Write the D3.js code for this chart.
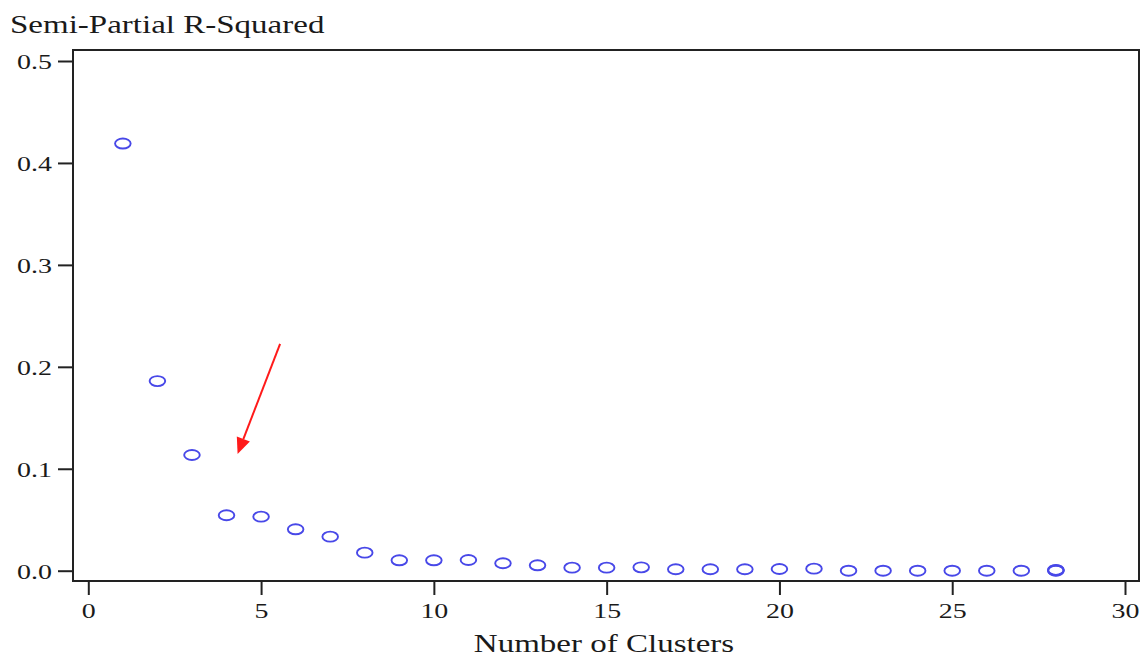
<!DOCTYPE html>
<html>
<head>
<meta charset="utf-8">
<script src="https://cdn.jsdelivr.net/npm/d3@7"></script>
<style>
  html, body { margin: 0; padding: 0; background: #fff; }
  svg { display: block; }
</style>
</head>
<body>
<svg id="chart" width="1142" height="658"></svg>
<script>
// ---- data ----
const clusters = [1,2,3,4,5,6,7,8,9,10,11,12,13,14,15,16,17,18,19,20,21,22,23,24,25,26,27,28,28,28];
const spRsq    = [0.419,0.186,0.1135,0.0544,0.053,0.0406,0.0334,0.0177,0.0102,0.0102,0.0105,0.0073,0.0053,0.003,0.003,0.0033,0.0014,0.0014,0.0014,0.0017,0.002,0.0,0.0,0.0,0.0,0.0,0.0,0.0,0.0004,0.0008];
const xTicks = [0,5,10,15,20,25,30];
const yTicks = [0.0,0.1,0.2,0.3,0.4,0.5];
const titleText = "Semi-Partial R-Squared";
const xLabel = "Number of Clusters";
// annotation arrow (data coordinates): start -> tip
const arrowStart = [5.55, 0.2225];
const arrowTip   = [4.32, 0.1145];

// ---- layout ----
const svg = d3.select("#chart");
const SX = 1.27;               // horizontal text stretch seen in reference
const frame = {left: 73, top: 50, right: 1139, bottom: 581};
const x = d3.scaleLinear().domain([0, 30]).range([88.3, 1125]);
const y = d3.scaleLinear().domain([0, 0.5]).range([570.7, 61]);
const serif = "'Liberation Serif', 'Times New Roman', serif";
const ink = "#1a1a1a";

// title
svg.append("text")
  .attr("transform", `translate(10,33) scale(${SX},1)`)
  .attr("font-family", serif).attr("font-size", 26).attr("fill", ink)
  .text(titleText);

// frame
svg.append("rect")
  .attr("x", frame.left).attr("y", frame.top)
  .attr("width", frame.right - frame.left).attr("height", frame.bottom - frame.top)
  .attr("fill", "none").attr("stroke", "#222").attr("stroke-width", 2);

// y axis
const gy = svg.append("g").attr("transform", `translate(${frame.left},0)`)
  .call(d3.axisLeft(y).tickValues(yTicks).tickFormat(d3.format(".1f")).tickSize(15));
gy.select(".domain").remove();
gy.selectAll(".tick line").attr("stroke", "#222").attr("stroke-width", 2);
gy.selectAll(".tick text")
  .attr("font-family", serif).attr("font-size", 22).attr("fill", ink)
  .attr("x", -21 / SX).attr("dy", "0.34em")
  .attr("transform", `scale(${SX},1)`);

// x axis
const gx = svg.append("g").attr("transform", `translate(0,${frame.bottom})`)
  .call(d3.axisBottom(x).tickValues(xTicks).tickFormat(d3.format("d")).tickSize(14));
gx.select(".domain").remove();
gx.selectAll(".tick line").attr("stroke", "#222").attr("stroke-width", 2);
gx.selectAll(".tick text")
  .attr("font-family", serif).attr("font-size", 22).attr("fill", ink)
  .attr("y", 21).attr("dy", "0.71em")
  .attr("transform", `scale(${SX},1)`);

// x label
svg.append("text")
  .attr("transform", `translate(604,652) scale(${SX},1)`)
  .attr("text-anchor", "middle")
  .attr("font-family", serif).attr("font-size", 26).attr("fill", ink)
  .text(xLabel);

// markers
const pts = clusters.map((c, i) => ({c, v: spRsq[i]}));
svg.append("g").selectAll("ellipse").data(pts).join("ellipse")
  .attr("cx", d => x(d.c)).attr("cy", d => y(d.v))
  .attr("rx", 7.8).attr("ry", 5)
  .attr("fill", "none").attr("stroke", "#4848e8").attr("stroke-width", 1.9);

// red arrow
const sx0 = x(arrowStart[0]), sy0 = y(arrowStart[1]);
const tx = x(arrowTip[0]), ty = y(arrowTip[1]);
const ang = Math.atan2(ty - sy0, tx - sx0);
const headLen = 16, headW = 7;
const bx = tx - headLen * Math.cos(ang), by = ty - headLen * Math.sin(ang);
svg.append("line")
  .attr("x1", sx0).attr("y1", sy0).attr("x2", bx).attr("y2", by)
  .attr("stroke", "#ff1a1a").attr("stroke-width", 2);
svg.append("path")
  .attr("d", `M${tx},${ty} L${bx + headW * Math.sin(ang)},${by - headW * Math.cos(ang)} L${bx - headW * Math.sin(ang)},${by + headW * Math.cos(ang)} Z`)
  .attr("fill", "#ff1a1a");
</script>
</body>
</html>
